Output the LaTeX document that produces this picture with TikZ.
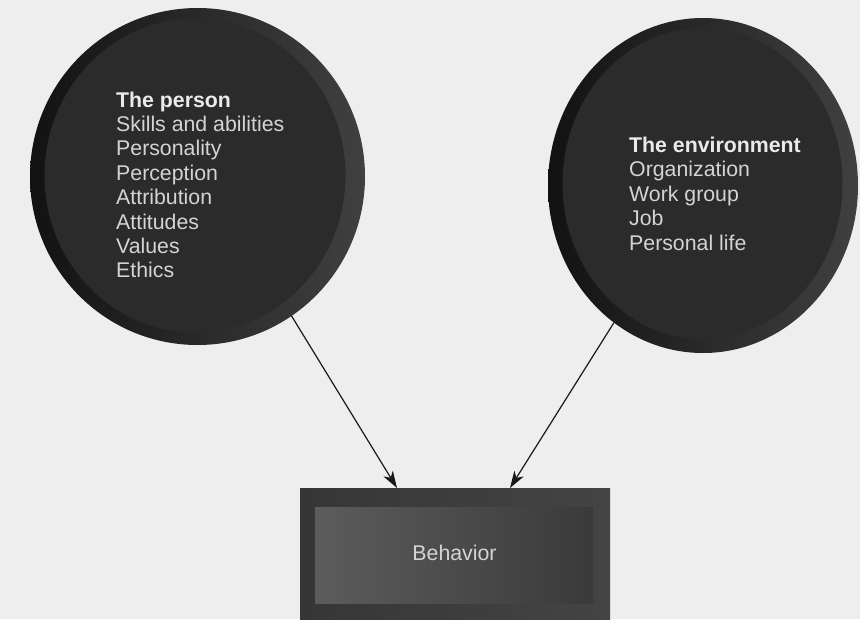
\documentclass[tikz,border=0pt]{standalone}
\usepackage{fontspec}
\setmainfont{Liberation Sans}
\usetikzlibrary{arrows.meta,shapes.geometric}
\definecolor{bgc}{HTML}{EEEEEE}
\definecolor{rimL}{HTML}{121212}
\definecolor{rimR}{HTML}{404040}
\definecolor{inc}{HTML}{2B2B2B}
\definecolor{txtc}{HTML}{D4D4D4}
\definecolor{hdc}{HTML}{EAEAEA}
\definecolor{boxout}{HTML}{363636}
\definecolor{boxoutr}{HTML}{444444}
\definecolor{boxinl}{HTML}{5C5C5C}
\definecolor{boxinr}{HTML}{3A3A3A}
\begin{document}
\begin{tikzpicture}[x=1pt,y=-1pt,
  bub/.style={ellipse, draw=none, left color=rimL, right color=rimR, inner sep=0pt, outer sep=0pt},
  bubin/.style={ellipse, draw=none, fill=inc, inner sep=0pt},
  lbl/.style={anchor=base west, inner sep=0pt, text=txtc, font=\fontsize{21.3}{24.4}\selectfont},
  hd/.style={lbl, text=hdc, font=\fontsize{21.3}{24.4}\selectfont\bfseries},
  arr/.style={-{Stealth[length=17pt,width=11pt,inset=5pt]}, line width=1.2pt, draw=black!90}
]
\useasboundingbox (0,0) rectangle (860,619);
\fill[bgc] (0,0) rectangle (860,619);

% left circle
\node[bub, minimum width=335pt, minimum height=337pt] (person) at (197.5,176.5) {};
\node[bubin, minimum width=301pt, minimum height=314pt] (personin) at (195,175.5) {};
\node[hd] (p0) at (116,107) {The person};
\foreach \t [count=\i] in {Skills and abilities, Personality, Perception, Attribution, Attitudes, Values, Ethics}
  \node[lbl] (p\i) at (116,{107+24.4*\i}) {\t};

% right circle
\node[bub, minimum width=310pt, minimum height=335pt] (env) at (703,185.5) {};
\node[bubin, minimum width=280pt, minimum height=311pt] (envin) at (702.5,183.5) {};
\node[hd] (e0) at (629,152) {The environment};
\foreach \t [count=\i] in {Organization, Work group, Job, Personal life}
  \node[lbl] (e\i) at (629,{152+24.5*\i}) {\t};

% behavior box
\node[draw=none, left color=boxout, right color=boxoutr, minimum width=310pt, minimum height=131pt, inner sep=0pt] (beh) at (455,553.5) {};
\node[draw=none, left color=boxinl, right color=boxinr, minimum width=278pt, minimum height=96pt, inner sep=0pt] (behin) at (454,555) {};
\node[anchor=base, inner sep=0pt, text=txtc, font=\fontsize{21.3}{24.4}\selectfont] (beht) at (454.5,560) {Behavior};

% connectors
\coordinate (t1) at (397,488);
\coordinate (t2) at (510,488);
\draw[arr] (person.-56.6) -- (t1);
\draw[arr] (env.-123.4) -- (t2);
\end{tikzpicture}
\end{document}
